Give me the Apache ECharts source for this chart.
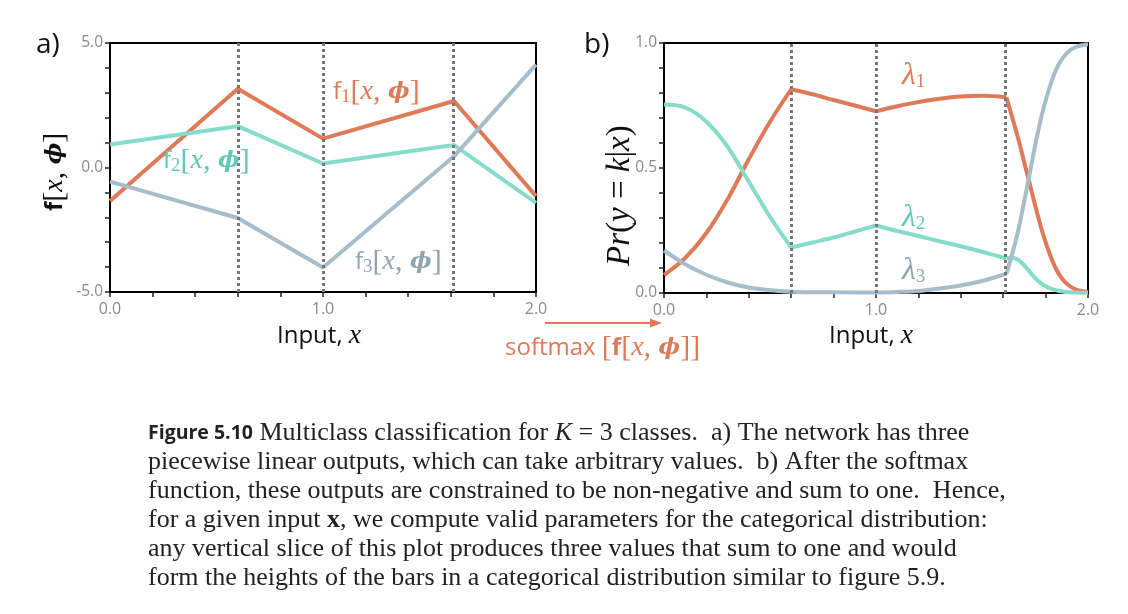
<!DOCTYPE html>
<html>
<head>
<meta charset="utf-8">
<script src="https://cdn.jsdelivr.net/npm/echarts@6/dist/echarts.min.js"></script>
<style>
  html, body { margin: 0; padding: 0; background: #fff; }
  #chart { width: 1128px; height: 614px; }
</style>
</head>
<body>
<div id="chart"></div>
<script>
// panel a) piecewise linear outputs, knots
var xKnots = [0.0, 0.6, 1.0, 1.615, 2.0];
var f1 = [-1.35, 3.16, 1.16, 2.67, -1.15];
var f2 = [0.92, 1.66, 0.16, 0.90, -1.42];
var f3 = [-0.57, -2.03, -4.02, 0.45, 4.13];

// panel b) softmax outputs
var xProb = [0.0, 0.1, 0.2, 0.3, 0.4, 0.5, 0.6, 0.7, 0.8, 0.9, 1.0, 1.1, 1.2, 1.3, 1.4, 1.5, 1.615,
  1.64, 1.67, 1.70, 1.73, 1.76, 1.79, 1.82, 1.85, 1.88, 1.91, 1.94, 1.97, 2.0];
var lam1 = [0.072, 0.140, 0.240, 0.375, 0.535, 0.685, 0.815, 0.795, 0.772, 0.750, 0.727, 0.747, 0.764, 0.777, 0.786, 0.789, 0.783,
  0.71, 0.62, 0.52, 0.42, 0.32, 0.23, 0.155, 0.095, 0.055, 0.030, 0.015, 0.008, 0.004];
var lam2 = [0.754, 0.742, 0.685, 0.585, 0.445, 0.305, 0.182, 0.202, 0.222, 0.246, 0.270, 0.248, 0.228, 0.207, 0.187, 0.165, 0.138,
  0.142, 0.133, 0.110, 0.080, 0.052, 0.032, 0.019, 0.011, 0.006, 0.003, 0.002, 0.001, 0.0005];
var lam3 = [0.170, 0.115, 0.073, 0.042, 0.022, 0.011, 0.005, 0.003, 0.003, 0.002, 0.002, 0.004, 0.008, 0.018, 0.030, 0.048, 0.077,
  0.148, 0.247, 0.370, 0.500, 0.628, 0.738, 0.826, 0.894, 0.939, 0.967, 0.983, 0.991, 0.995];

var knotLines = [0.6, 1.0, 1.615];
var xTicks = ['0.0', '1.0', '2.0'];

var captionLines = [
  [['b', 'Figure 5.10'], ['t', ' Multiclass classification for '], ['i', 'K'], ['t', ' = 3 classes.  a) The network has three']],
  [['t', 'piecewise linear outputs, which can take arbitrary values.  b) After the softmax']],
  [['t', 'function, these outputs are constrained to be non-negative and sum to one.  Hence,']],
  [['t', 'for a given input '], ['bx', 'x'], ['t', ', we compute valid parameters for the categorical distribution:']],
  [['t', 'any vertical slice of this plot produces three values that sum to one and would']],
  [['t', 'form the heights of the bars in a categorical distribution similar to figure 5.9.']]
];

var ORANGE = '#de7a57', TEAL = '#86dccb', GREY = '#a7bdca';
var SANS = '"Open Sans", "Noto Sans", sans-serif';
var SERIF = '"Liberation Serif", "DejaVu Serif", serif';
var MATH = '"DejaVu Serif", serif';

function pairs(xs, ys) {
  return xs.map(function (x, i) { return [x, ys[i]]; });
}

function line(name, xi, xs, ys, color, smooth) {
  return {
    name: name, type: 'line', xAxisIndex: xi, yAxisIndex: xi,
    data: pairs(xs, ys), showSymbol: false, symbol: 'none',
    smooth: smooth || false,
    lineStyle: { color: color, width: 4 }, z: 3, silent: true
  };
}

// softmax curves are smooth between knots but kinked at the knots,
// so each stretch between knots gets its own smoothed series
function segments(name, xs, ys, color) {
  var cuts = [0];
  knotLines.forEach(function (k) {
    var idx = xs.findIndex(function (v) { return Math.abs(v - k) < 1e-9; });
    if (idx > 0) cuts.push(idx);
  });
  cuts.push(xs.length - 1);
  var out = [];
  for (var i = 0; i < cuts.length - 1; i++) {
    out.push(line(name, 1, xs.slice(cuts[i], cuts[i + 1] + 1), ys.slice(cuts[i], cuts[i + 1] + 1), color, 0.35));
  }
  return out;
}

function knots(xi) {
  return {
    type: 'line', xAxisIndex: xi, yAxisIndex: xi, data: [], silent: true,
    markLine: {
      symbol: 'none', silent: true, label: { show: false },
      lineStyle: { color: '#777', width: 3, type: [3, 3] },
      data: knotLines.map(function (v) { return { xAxis: v }; })
    },
    z: 2
  };
}

function xAxis(gi) {
  return {
    type: 'value', gridIndex: gi, min: 0, max: 2, interval: 0.2,
    axisLine: { show: false, onZero: false },
    axisTick: { show: true, length: 5, inside: false, lineStyle: { color: '#222', width: 1.5 } },
    splitLine: { show: false },
    axisLabel: {
      color: '#8a8a8a', fontFamily: SANS, fontSize: 16, margin: 9,
      formatter: function (v) {
        var k = Math.round(v);
        return Math.abs(v - k) < 1e-6 ? xTicks[k] : '';
      }
    }
  };
}

function yAxis(gi, min, max, step, labels) {
  return {
    type: 'value', gridIndex: gi, min: min, max: max, interval: step,
    axisLine: { show: false, onZero: false },
    axisTick: { show: true, length: 5, lineStyle: { color: '#222', width: 1.5 } },
    splitLine: { show: false },
    axisLabel: {
      color: '#8a8a8a', fontFamily: SANS, fontSize: 15.5, margin: 7,
      formatter: function (v) {
        for (var i = 0; i < labels.length; i++) {
          if (Math.abs(v - labels[i][0]) < 1e-6) return labels[i][1];
        }
        return '';
      }
    }
  };
}

var mathRich = {
  s: { fontFamily: SANS, fontSize: 24 },
  fb: { fontFamily: SANS, fontSize: 24, fontWeight: 'bold' },
  sub: { fontFamily: SERIF, fontSize: 19, verticalAlign: 'bottom', padding: [10, 0, 0, 0] },
  br: { fontFamily: SERIF, fontSize: 30 },
  it: { fontFamily: SERIF, fontSize: 28, fontStyle: 'italic' },
  phi: { fontFamily: MATH, fontSize: 23, fontStyle: 'italic', fontWeight: 'bold' },
  lam: { fontFamily: SERIF, fontSize: 32, fontStyle: 'italic' },
  pi: { fontFamily: SERIF, fontSize: 33, fontStyle: 'italic' },
  pb: { fontFamily: SERIF, fontSize: 33 }
};

function richText(x, y, text, color, extra) {
  var st = { x: x, y: y, text: text, fill: color, rich: {}, verticalAlign: 'middle', align: 'left' };
  Object.keys(mathRich).forEach(function (k) {
    st.rich[k] = Object.assign({ fill: color }, mathRich[k]);
  });
  var el = { type: 'text', style: st, z: 10 };
  if (extra) Object.assign(el, extra);
  return el;
}

function fLabel(n) {
  return '{s|f}{sub|' + n + '}{br|[}{it|x}{br|, }{phi|ϕ}{br|]}';
}

var captionRich = {
  b: { fontFamily: SANS, fontSize: 19.5, fontWeight: 'bold', fill: '#222' },
  t: { fontFamily: SERIF, fontSize: 26, fill: '#222' },
  i: { fontFamily: SERIF, fontSize: 26, fontStyle: 'italic', fill: '#222' },
  bx: { fontFamily: SERIF, fontSize: 26, fontWeight: 'bold', fill: '#222' }
};

var graphics = [];
captionLines.forEach(function (parts, i) {
  var txt = parts.map(function (p) { return '{' + p[0] + '|' + p[1] + '}'; }).join('');
  graphics.push({
    type: 'text', z: 10,
    style: { x: 148, y: 433 + i * 29, text: txt, rich: captionRich, verticalAlign: 'middle', fill: '#222' }
  });
});

// panel letters
graphics.push({ type: 'text', style: { x: 36, y: 45, text: 'a)', fontFamily: SANS, fontSize: 28, fill: '#111', verticalAlign: 'middle' } });
graphics.push({ type: 'text', style: { x: 584, y: 45, text: 'b)', fontFamily: SANS, fontSize: 28, fill: '#111', verticalAlign: 'middle' } });

// axis names
graphics.push(richText(277, 336, '{s|Input, }{it|x}', '#111'));
graphics.push(richText(829, 336, '{s|Input, }{it|x}', '#111'));
graphics.push(richText(0, 0, '{fb|f}{br|[}{it|x}{br|, }{phi|ϕ}{br|]}', '#111',
  { x: 55, y: 211, rotation: Math.PI / 2 }));
graphics.push(richText(0, 0, '{pi|Pr}{pb|(}{pi|y}{pb| = }{pi|k}{pb||}{pi|x}{pb|)}', '#111',
  { x: 620, y: 266, rotation: Math.PI / 2 }));

// curve labels
graphics.push(richText(333, 92, fLabel(1), ORANGE));
graphics.push(richText(163, 161, fLabel(2), '#5fc9b5'));
graphics.push(richText(355, 262, fLabel(3), '#8fa6b2'));
graphics.push(richText(902, 76, '{lam|λ}{sub|1}', ORANGE));
graphics.push(richText(902, 218, '{lam|λ}{sub|2}', '#5fc9b5'));
graphics.push(richText(902, 271, '{lam|λ}{sub|3}', '#8fa6b2'));

// softmax arrow
graphics.push({ type: 'line', shape: { x1: 545, y1: 323, x2: 652, y2: 323 }, style: { stroke: ORANGE, lineWidth: 2 } });
graphics.push({ type: 'polygon', shape: { points: [[662, 323], [650, 318.5], [650, 327.5]] }, style: { fill: ORANGE } });
graphics.push(richText(505, 348, '{s|softmax }{br|[}{fb|f}{br|[}{it|x}{br|, }{phi|ϕ}{br|]]}', ORANGE));

var series = [knots(0), knots(1),
  line('f1', 0, xKnots, f1, ORANGE),
  line('f2', 0, xKnots, f2, TEAL),
  line('f3', 0, xKnots, f3, GREY)]
  .concat(segments('lambda1', xProb, lam1, ORANGE))
  .concat(segments('lambda2', xProb, lam2, TEAL))
  .concat(segments('lambda3', xProb, lam3, GREY));

var chart = echarts.init(document.getElementById('chart'), null, { renderer: 'canvas' });
chart.setOption({
  backgroundColor: '#fff',
  animation: false,
  grid: [
    { left: 110, top: 43, width: 426, height: 249, show: true, borderColor: '#000', borderWidth: 2, backgroundColor: 'transparent' },
    { left: 664, top: 43, width: 424, height: 250, show: true, borderColor: '#000', borderWidth: 2, backgroundColor: 'transparent' }
  ],
  xAxis: [xAxis(0), xAxis(1)],
  yAxis: [
    yAxis(0, -5, 5, 1, [[5, '5.0'], [0, '0.0'], [-5, '-5.0']]),
    yAxis(1, 0, 1, 0.1, [[1, '1.0'], [0.5, '0.5'], [0, '0.0']])
  ],
  series: series,
  graphic: graphics
});
</script>
</body>
</html>
